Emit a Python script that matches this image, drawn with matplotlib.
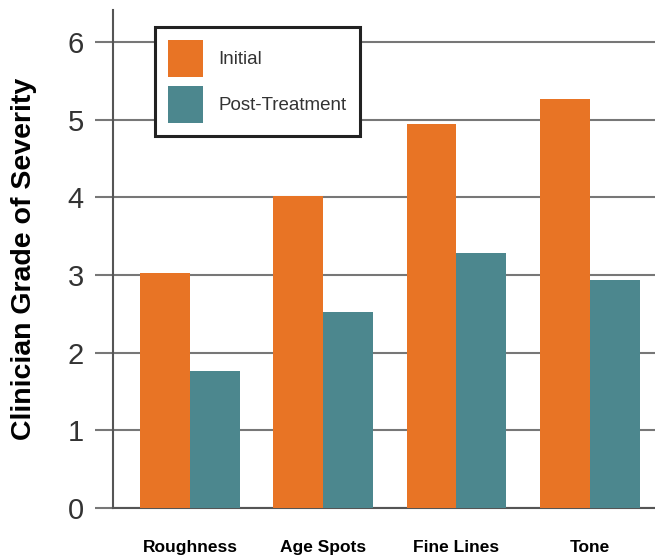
import matplotlib
matplotlib.use("Agg")
import matplotlib.pyplot as plt
import numpy as np

categories = ["Roughness", "Age Spots", "Fine Lines", "Tone"]
initial = [3.02, 4.01, 4.94, 5.27]
post_treatment = [1.76, 2.52, 3.28, 2.93]
yticks = [0, 1, 2, 3, 4, 5, 6]

orange = "#E87425"
teal = "#4C878E"

plt.rcParams["font.family"] = ["Liberation Sans", "DejaVu Sans"]

fig = plt.figure(figsize=(6.55, 5.56), dpi=100)
ax = fig.add_axes([0.1725, 0.0863, 0.8275, 0.8957])

x = np.arange(len(categories))
w = 0.375
ax.bar(x - w / 2, initial, w, color=orange, label="Initial", zorder=3)
ax.bar(x + w / 2, post_treatment, w, color=teal, label="Post-Treatment", zorder=3)

ax.set_xlim(-0.578, 3.49)
ax.set_ylim(0, 6.41)
ax.set_yticks(yticks)
ax.set_yticklabels([str(t) for t in yticks], fontsize=21, color="#333333")
ax.yaxis.grid(True, color="#777777", linewidth=1.5, zorder=0)
ax.tick_params(axis="y", length=13, width=1.5, color="#777777", pad=8)
ax.set_xticks(x)
ax.set_xticklabels(categories, fontsize=12.5, fontweight="bold")
ax.tick_params(axis="x", length=0, pad=23)

for s in ["top", "right"]:
    ax.spines[s].set_visible(False)
for s in ["left", "bottom"]:
    ax.spines[s].set_color("#555555")
    ax.spines[s].set_linewidth(1.5)

ax.set_ylabel("Clinician Grade of Severity", fontsize=20.5, fontweight="bold", labelpad=22)

leg = ax.legend(loc="upper left", bbox_to_anchor=(0.0775, 0.966), borderaxespad=0,
                fontsize=13.5, fancybox=False, framealpha=1, edgecolor="#222222",
                handlelength=1.85, handleheight=2.65, borderpad=0.7,
                labelspacing=0.5, handletextpad=0.85)
leg.get_frame().set_linewidth(2.2)
leg.set_zorder(5)
for t in leg.get_texts():
    t.set_color("#333333")

fig.savefig("out.png", dpi=100, facecolor="white")
